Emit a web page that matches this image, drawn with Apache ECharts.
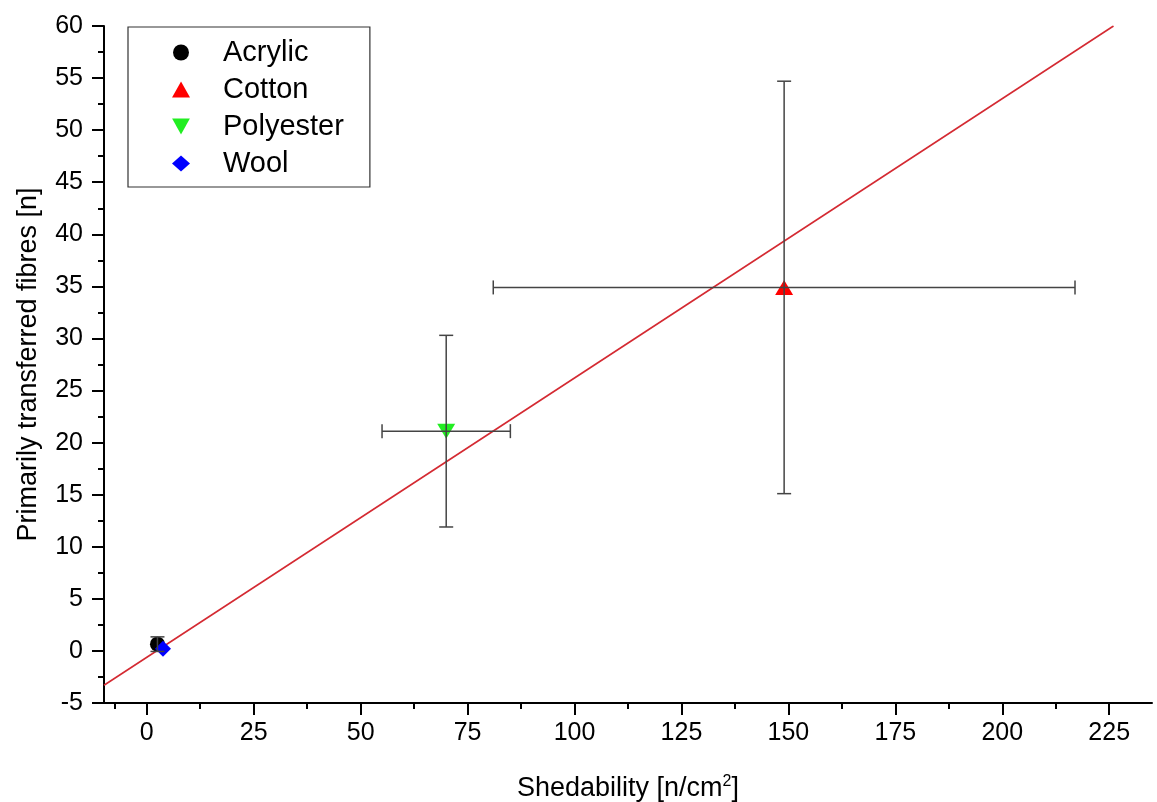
<!DOCTYPE html>
<html>
<head>
<meta charset="utf-8">
<script src="https://cdn.jsdelivr.net/npm/echarts@6/dist/echarts.min.js"></script>
<style>
    html,body{margin:0;padding:0;background:#fff;}
    #chart{width:1157px;height:802px;}
</style>
</head>
<body>
<div id="chart"></div>
<script>
    // fibre types and measured values
    const names = ['Acrylic', 'Cotton', 'Polyester', 'Wool'];
    const shedX = [2.5, 149, 70, 3.8];
    const fibresY = [0.65, 34.9, 21.1, 0.2];
    const xErr = [0, 68, 15, 0];
    const yErr = [0.7, 19.8, 9.2, 0];
    const colors = ['#000000', '#ff0000', '#22ee22', '#0000ff'];
    const symbols = ['circle', 'triangle', 'path://M0,0 L10,0 L5,9 Z', 'diamond'];
    const sizes = [[15, 15], [18, 15], [18, 15], [16, 16]];

    // linear fit
    const fitX = [-10, 226];
    const fitY = [-3.3, 60];

    // tick values
    const xTicks = [0, 25, 50, 75, 100, 125, 150, 175, 200, 225];
    const xMinor = [-7.5, 12.5, 37.5, 62.5, 87.5, 112.5, 137.5, 162.5, 187.5, 212.5];

    const font = '"Liberation Sans", Arial, sans-serif';

    let chart = echarts.init(document.getElementById('chart'));

    let series = names.map((n, i) => ({
        name: n,
        type: 'scatter',
        symbol: symbols[i],
        symbolSize: sizes[i],
        itemStyle: {color: colors[i], opacity: 1},
        data: [[shedX[i], fibresY[i]]],
        z: 3
    }));

    series.unshift({
        type: 'line',
        data: fitX.map((x, i) => [x, fitY[i]]),
        symbol: 'none',
        lineStyle: {color: '#d42a32', width: 1.6},
        silent: true,
        z: 2
    });

    series.push({
        type: 'custom',
        silent: true,
        z: 4,
        data: names.map((n, i) => [shedX[i], fibresY[i], xErr[i], yErr[i]]),
        renderItem: (params, api) => {
            let x = api.value(0), y = api.value(1), ex = api.value(2), ey = api.value(3);
            let kids = [];
            let st = {stroke: '#444', lineWidth: 1.5};
            let cap = 7;
            if (ey > 0) {
                let t = api.coord([x, y + ey]), b = api.coord([x, y - ey]);
                kids.push({type: 'line', shape: {x1: t[0], y1: t[1], x2: b[0], y2: b[1]}, style: st});
                kids.push({type: 'line', shape: {x1: t[0] - cap, y1: t[1], x2: t[0] + cap, y2: t[1]}, style: st});
                kids.push({type: 'line', shape: {x1: b[0] - cap, y1: b[1], x2: b[0] + cap, y2: b[1]}, style: st});
            }
            if (ex > 0) {
                let l = api.coord([x - ex, y]), r = api.coord([x + ex, y]);
                kids.push({type: 'line', shape: {x1: l[0], y1: l[1], x2: r[0], y2: r[1]}, style: st});
                kids.push({type: 'line', shape: {x1: l[0], y1: l[1] - cap, x2: l[0], y2: l[1] + cap}, style: st});
                kids.push({type: 'line', shape: {x1: r[0], y1: r[1] - cap, x2: r[0], y2: r[1] + cap}, style: st});
            }
            return {type: 'group', children: kids};
        }
    });

    let option = {
        backgroundColor: '#fff',
        animation: false,
        textStyle: {fontFamily: font},
        grid: {left: 104, right: 5, top: 26, bottom: 99, outerBoundsMode: 'none'},
        legend: {
            orient: 'vertical',
            left: 128,
            top: 27,
            data: names,
            backgroundColor: '#fff',
            borderColor: '#333',
            borderWidth: 1.2,
            borderRadius: 0,
            padding: [11, 26, 9, 44],
            itemWidth: 18,
            itemHeight: 16,
            itemGap: 8,
            textStyle: {fontSize: 29, color: '#000', fontFamily: font, padding: [0, 0, 0, 28], lineHeight: 24}
        },
        xAxis: [
            {
                type: 'value',
                min: -10,
                max: 235,
                name: 'Shedability [n/cm{sup|2}]',
                nameLocation: 'middle',
                nameGap: 71,
                nameTextStyle: {
                    fontSize: 27, color: '#000', fontFamily: font,
                    rich: {sup: {fontSize: 16, color: '#000', fontFamily: font, padding: [0, 0, 14, 0]}}
                },
                axisLine: {onZero: false, lineStyle: {color: '#000', width: 2}},
                axisTick: {show: true, inside: false, length: 12, lineStyle: {color: '#000', width: 2}, customValues: xTicks},
                axisLabel: {
                    customValues: xTicks, margin: 18, fontSize: 25, color: '#000',
                    fontFamily: '"Liberation Sans Narrow", "Liberation Sans", Arial, sans-serif'
                },
                splitLine: {show: false}
            },
            {
                type: 'value',
                min: -10,
                max: 235,
                position: 'bottom',
                axisLine: {show: false, onZero: false},
                axisTick: {show: true, length: 6, lineStyle: {color: '#000', width: 2}, customValues: xMinor},
                axisLabel: {show: false},
                splitLine: {show: false}
            }
        ],
        yAxis: {
            type: 'value',
            min: -5,
            max: 60,
            interval: 5,
            name: 'Primarily transferred fibres [n]',
            nameLocation: 'middle',
            nameGap: 62,
            nameTextStyle: {fontSize: 27, color: '#000', fontFamily: font},
            axisLine: {show: true, onZero: false, lineStyle: {color: '#000', width: 2}},
            axisTick: {show: true, length: 12, lineStyle: {color: '#000', width: 2}},
            minorTick: {show: true, splitNumber: 2, length: 6, lineStyle: {color: '#000', width: 2}},
            axisLabel: {margin: 21, fontSize: 25, color: '#000', fontFamily: font},
            splitLine: {show: false}
        },
        series: series
    };

    chart.setOption(option);
    window.addEventListener('resize', chart.resize);
</script>
</body>
</html>
